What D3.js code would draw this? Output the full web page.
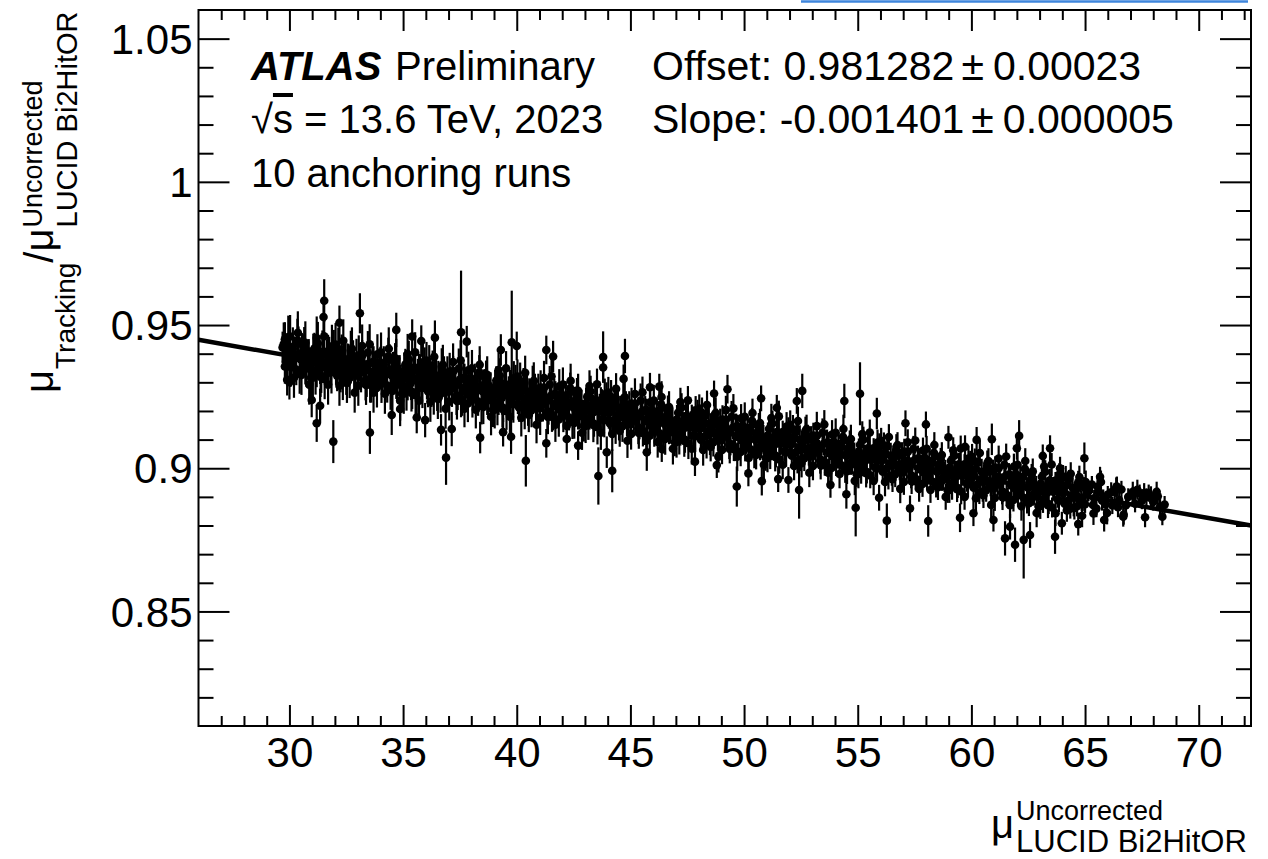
<!DOCTYPE html>
<html>
<head>
<meta charset="utf-8">
<script src="https://cdn.jsdelivr.net/npm/d3@7"></script>
<style>
  body { margin: 0; background: #fff; }
  svg text { font-family: "Liberation Sans", Arial, Helvetica, sans-serif; fill: #000; }
  .axis path { display: none; }
  .axis line { stroke: #000; stroke-width: 2; }
  .axis text { font-size: 42px; }
</style>
</head>
<body>
<div id="chart"></div>
<script>
// mu (LUCID Bi2HitOR, uncorrected) per lumiblock, 10 anchoring runs
var muLucid = [
  29.7, 29.8, 29.8, 29.9, 29.9,
  30.0, 30.1, 30.2, 30.3, 30.4, 30.5, 30.6, 30.7, 30.8, 30.9,
  31.0, 31.1, 31.2, 31.3, 31.4, 31.5, 31.6, 31.7, 31.8, 31.9,
  32.0, 32.1, 32.2, 32.3, 32.4, 32.5, 32.6, 32.7, 32.8, 32.9,
  33.0, 33.1, 33.2, 33.3, 33.4, 33.5, 33.6, 33.7, 33.8, 33.9,
  34.0, 34.1, 34.2, 34.3, 34.4, 34.5, 34.6, 34.7, 34.8, 34.9,
  35.0, 35.1, 35.2, 35.3, 35.4, 35.5, 35.6, 35.7, 35.8, 35.9,
  36.0, 36.1, 36.2, 36.3, 36.4, 36.5, 36.6, 36.7, 36.8, 36.9,
  37.0, 37.1, 37.2, 37.3, 37.4, 37.5, 37.6, 37.7, 37.8, 37.9,
  38.0, 38.1, 38.2, 38.3, 38.4, 38.5, 38.6, 38.7, 38.8, 38.9,
  39.0, 39.1, 39.2, 39.3, 39.4, 39.5, 39.6, 39.7, 39.8, 39.9,
  40.0, 40.1, 40.2, 40.3, 40.4, 40.5, 40.6, 40.7, 40.8, 40.9,
  41.0, 41.1, 41.2, 41.3, 41.4, 41.5, 41.6, 41.7, 41.8, 41.9,
  42.0, 42.1, 42.2, 42.3, 42.4, 42.5, 42.6, 42.7, 42.8, 42.9,
  43.0, 43.1, 43.2, 43.3, 43.4, 43.5, 43.6, 43.7, 43.8, 43.9,
  44.0, 44.1, 44.2, 44.3, 44.4, 44.5, 44.6, 44.7, 44.8, 44.9,
  45.0, 45.1, 45.2, 45.3, 45.4, 45.5, 45.6, 45.7, 45.8, 45.9,
  46.0, 46.1, 46.2, 46.3, 46.4, 46.5, 46.6, 46.7, 46.8, 46.9,
  47.0, 47.1, 47.2, 47.3, 47.4, 47.5, 47.6, 47.7, 47.8, 47.9,
  48.0, 48.1, 48.2, 48.3, 48.4, 48.5, 48.6, 48.7, 48.8, 48.9,
  49.0, 49.1, 49.2, 49.3, 49.4, 49.5, 49.6, 49.7, 49.8, 49.9,
  50.0, 50.1, 50.2, 50.3, 50.4, 50.5, 50.6, 50.7, 50.8, 50.9,
  51.0, 51.1, 51.2, 51.3, 51.4, 51.5, 51.6, 51.7, 51.8, 51.9,
  52.0, 52.1, 52.2, 52.3, 52.4, 52.5, 52.6, 52.7, 52.8, 52.9,
  53.0, 53.1, 53.2, 53.3, 53.4, 53.5, 53.6, 53.7, 53.8, 53.9,
  54.0, 54.1, 54.2, 54.3, 54.4, 54.5, 54.6, 54.7, 54.8, 54.9,
  55.0, 55.1, 55.2, 55.3, 55.4, 55.5, 55.6, 55.7, 55.8, 55.9,
  56.0, 56.1, 56.2, 56.3, 56.4, 56.5, 56.6, 56.7, 56.8, 56.9,
  57.0, 57.1, 57.2, 57.3, 57.4, 57.5, 57.6, 57.7, 57.8, 57.9,
  58.0, 58.1, 58.2, 58.3, 58.4, 58.5, 58.6, 58.7, 58.8, 58.9,
  59.0, 59.1, 59.2, 59.3, 59.4, 59.5, 59.6, 59.7, 59.8, 59.9,
  60.0, 60.1, 60.2, 60.3, 60.4, 60.5, 60.6, 60.7, 60.8, 60.9,
  61.0, 61.1, 61.2, 61.3, 61.4, 61.5, 61.6, 61.7, 61.8, 61.9,
  62.0, 62.1, 62.2, 62.3, 62.4, 62.5, 62.6, 62.7, 62.8, 62.9,
  63.0, 63.1, 63.2, 63.3, 63.4, 63.5, 63.6, 63.7, 63.8, 63.9,
  64.0, 64.1, 64.2, 64.3, 64.4, 64.5, 64.6, 64.7, 64.8, 64.9,
  65.0, 65.1, 65.3, 65.4, 65.5, 65.6, 65.8, 65.9,
  66.0, 66.2, 66.3, 66.5, 66.6, 66.8, 66.9,
  67.1, 67.2, 67.4, 67.5, 67.7, 67.8, 68.0, 68.2, 68.3, 68.5,
  // second pass of lumiblocks
  29.75, 29.85, 29.95,
  30.05, 30.15, 30.25, 30.35, 30.45, 30.55, 30.65, 30.75, 30.85, 30.95,
  31.05, 31.15, 31.25, 31.35, 31.45, 31.55, 31.65, 31.75, 31.85, 31.95,
  32.05, 32.15, 32.25, 32.35, 32.45, 32.55, 32.65, 32.75, 32.85, 32.95,
  33.05, 33.15, 33.25, 33.35, 33.45, 33.55, 33.65, 33.75, 33.85, 33.95,
  34.05, 34.15, 34.25, 34.35, 34.45, 34.55, 34.65, 34.75, 34.85, 34.95,
  35.05, 35.15, 35.25, 35.35, 35.45, 35.55, 35.65, 35.75, 35.85, 35.95,
  36.05, 36.15, 36.25, 36.35, 36.45, 36.55, 36.65, 36.75, 36.85, 36.95,
  37.05, 37.15, 37.25, 37.35, 37.45, 37.55, 37.65, 37.75, 37.85, 37.95,
  38.05, 38.15, 38.25, 38.35, 38.45, 38.55, 38.65, 38.75, 38.85, 38.95,
  39.05, 39.15, 39.25, 39.35, 39.45, 39.55, 39.65, 39.75, 39.85, 39.95,
  40.05, 40.15, 40.25, 40.35, 40.45, 40.55, 40.65, 40.75, 40.85, 40.95,
  41.05, 41.15, 41.25, 41.35, 41.45, 41.55, 41.65, 41.75, 41.85, 41.95,
  42.05, 42.15, 42.25, 42.35, 42.45, 42.55, 42.65, 42.75, 42.85, 42.95,
  43.05, 43.15, 43.25, 43.35, 43.45, 43.55, 43.65, 43.75, 43.85, 43.95,
  44.05, 44.15, 44.25, 44.35, 44.45, 44.55, 44.65, 44.75, 44.85, 44.95,
  45.05, 45.15, 45.25, 45.35, 45.45, 45.55, 45.65, 45.75, 45.85, 45.95,
  46.05, 46.15, 46.25, 46.35, 46.45, 46.55, 46.65, 46.75, 46.85, 46.95,
  47.05, 47.15, 47.25, 47.35, 47.45, 47.55, 47.65, 47.75, 47.85, 47.95,
  48.05, 48.15, 48.25, 48.35, 48.45, 48.55, 48.65, 48.75, 48.85, 48.95,
  49.05, 49.15, 49.25, 49.35, 49.45, 49.55, 49.65, 49.75, 49.85, 49.95,
  50.05, 50.15, 50.25, 50.35, 50.45, 50.55, 50.65, 50.75, 50.85, 50.95,
  51.05, 51.15, 51.25, 51.35, 51.45, 51.55, 51.65, 51.75, 51.85, 51.95,
  52.05, 52.15, 52.25, 52.35, 52.45, 52.55, 52.65, 52.75, 52.85, 52.95,
  53.05, 53.15, 53.25, 53.35, 53.45, 53.55, 53.65, 53.75, 53.85, 53.95,
  54.05, 54.15, 54.25, 54.35, 54.45, 54.55, 54.65, 54.75, 54.85, 54.95,
  55.05, 55.15, 55.25, 55.35, 55.45, 55.55, 55.65, 55.75, 55.85, 55.95,
  56.05, 56.15, 56.25, 56.35, 56.45, 56.55, 56.65, 56.75, 56.85, 56.95,
  57.05, 57.15, 57.25, 57.35, 57.45, 57.55, 57.65, 57.75, 57.85, 57.95,
  58.05, 58.15, 58.25, 58.35, 58.45, 58.55, 58.65, 58.75, 58.85, 58.95,
  59.05, 59.15, 59.25, 59.35, 59.45, 59.55, 59.65, 59.75, 59.85, 59.95,
  60.05, 60.15, 60.25, 60.35, 60.45, 60.55, 60.65, 60.75, 60.85, 60.95,
  61.05, 61.15, 61.25, 61.35, 61.45, 61.55, 61.65, 61.75, 61.85, 61.95,
  62.05, 62.15, 62.25, 62.35, 62.45, 62.55, 62.65, 62.75, 62.85, 62.95,
  63.05, 63.15, 63.25, 63.35, 63.45, 63.55, 63.65, 63.75, 63.85, 63.95,
  64.05, 64.15, 64.25, 64.35, 64.45, 64.55, 64.65, 64.75, 64.85, 64.95,
  65.15, 65.35, 65.55, 65.75, 66.15, 66.45,
  // third pass (outer part of the band)
  30.03, 30.2, 30.37, 30.53, 30.7, 30.87,
  31.03, 31.2, 31.37, 31.53, 31.7, 31.87,
  32.03, 32.2, 32.37, 32.53, 32.7, 32.87,
  33.03, 33.2, 33.37, 33.53, 33.7, 33.87,
  34.03, 34.2, 34.37, 34.53, 34.7, 34.87,
  35.03, 35.2, 35.37, 35.53, 35.7, 35.87,
  36.03, 36.2, 36.37, 36.53, 36.7, 36.87,
  37.03, 37.2, 37.37, 37.53, 37.7, 37.87,
  38.03, 38.2, 38.37, 38.53, 38.7, 38.87,
  39.03, 39.2, 39.37, 39.53, 39.7, 39.87,
  40.03, 40.2, 40.37, 40.53, 40.7, 40.87,
  41.03, 41.2, 41.37, 41.53, 41.7, 41.87,
  42.03, 42.2, 42.37, 42.53, 42.7, 42.87,
  43.03, 43.2, 43.37, 43.53, 43.7, 43.87,
  44.03, 44.2, 44.37, 44.53, 44.7, 44.87,
  45.03, 45.2, 45.37, 45.53, 45.7, 45.87,
  46.03, 46.2, 46.37, 46.53, 46.7, 46.87,
  47.03, 47.2, 47.37, 47.53, 47.7, 47.87,
  48.03, 48.2, 48.37, 48.53, 48.7, 48.87,
  49.03, 49.2, 49.37, 49.53, 49.7, 49.87,
  50.03, 50.2, 50.37, 50.53, 50.7, 50.87,
  51.03, 51.2, 51.37, 51.53, 51.7, 51.87,
  52.03, 52.2, 52.37, 52.53, 52.7, 52.87,
  53.03, 53.2, 53.37, 53.53, 53.7, 53.87,
  54.03, 54.2, 54.37, 54.53, 54.7, 54.87,
  55.03, 55.2, 55.37, 55.53, 55.7, 55.87,
  56.03, 56.2, 56.37, 56.53, 56.7, 56.87,
  57.03, 57.2, 57.37, 57.53, 57.7, 57.87,
  58.03, 58.2, 58.37, 58.53, 58.7, 58.87,
  59.03, 59.2, 59.37, 59.53, 59.7, 59.87,
  60.03, 60.2, 60.37, 60.53, 60.7, 60.87,
  61.03, 61.2, 61.37, 61.53, 61.7, 61.87,
  62.03, 62.2, 62.37, 62.53, 62.7, 62.87,
  63.03, 63.2, 63.37, 63.53, 63.7, 63.87,
  64.03, 64.2, 64.37, 64.53, 64.7, 64.87,
  65.03, 65.37, 65.7, 65.97, 66.37, 66.7, 67.3, 67.9,
  // upper and lower edge of the band
  31.5, 34.7, 35.4, 35.8, 36.4, 37.8, 39.3, 40.0, 41.3, 41.6, 43.8, 44.7,
  30.0, 31.35, 34.87, 35.6, 35.97, 36.67, 37.14, 38.39, 39.4, 39.75, 41.3, 42.2, 42.7, 43.96,
  45.86, 46.27, 48.68, 49.27, 50.75, 51.44, 52.32, 57.1, 58.0, 58.99, 59.72, 60.23, 62.0, 63.14, 63.46, 63.9, 65.66, 66.4, 67.1, 67.6,
  46.38, 47.84, 48.8, 50.19, 50.78, 51.5, 51.95, 53.8, 54.5, 55.94, 57.3, 60.09, 60.97, 61.7, 62.58, 63.98, 64.7, 66.68,
  // isolated points
  30.98, 31.2, 31.53, 31.93, 32.2, 33.1, 33.54, 34.5, 36.89, 37.55, 39.78, 40.4, 43.59, 43.8, 44.2, 44.76, 45.72, 49.68, 52.42,
  52.56, 54.41, 54.91, 55.1, 55.84, 56.28, 58.1, 59.5, 60.9, 61.48, 61.92, 62.1, 62.3, 63.68, 64.97, 65.84, 67.64, 68.15, 68.4
];

// mu_Tracking / mu_LUCID
var ratio = [
  0.9422, 0.9355, 0.9450, 0.9309, 0.9402,
  0.9425, 0.9370, 0.9400, 0.9345, 0.9435, 0.9380, 0.9408, 0.9348, 0.9384, 0.9362,
  0.9367, 0.9418, 0.9343, 0.9383, 0.9323, 0.9398, 0.9366, 0.9406, 0.9340, 0.9381,
  0.9371, 0.9324, 0.9391, 0.9412, 0.9345, 0.9311, 0.9374, 0.9346, 0.9392, 0.9329,
  0.9323, 0.9362, 0.9393, 0.9344, 0.9309, 0.9366, 0.9289, 0.9371, 0.9344, 0.9322,
  0.9369, 0.9314, 0.9344, 0.9289, 0.9379, 0.9324, 0.9352, 0.9292, 0.9328, 0.9306,
  0.9311, 0.9362, 0.9287, 0.9327, 0.9267, 0.9342, 0.9310, 0.9350, 0.9284, 0.9325,
  0.9315, 0.9268, 0.9335, 0.9356, 0.9289, 0.9255, 0.9318, 0.9290, 0.9336, 0.9273,
  0.9267, 0.9306, 0.9337, 0.9288, 0.9253, 0.9310, 0.9233, 0.9315, 0.9288, 0.9266,
  0.9313, 0.9258, 0.9288, 0.9233, 0.9323, 0.9268, 0.9296, 0.9236, 0.9272, 0.9250,
  0.9254, 0.9306, 0.9231, 0.9271, 0.9211, 0.9285, 0.9254, 0.9294, 0.9228, 0.9269,
  0.9258, 0.9212, 0.9279, 0.9300, 0.9233, 0.9198, 0.9262, 0.9234, 0.9280, 0.9217,
  0.9210, 0.9250, 0.9281, 0.9232, 0.9197, 0.9253, 0.9177, 0.9259, 0.9232, 0.9210,
  0.9256, 0.9202, 0.9232, 0.9177, 0.9267, 0.9211, 0.9240, 0.9180, 0.9216, 0.9194,
  0.9198, 0.9250, 0.9175, 0.9215, 0.9155, 0.9229, 0.9198, 0.9238, 0.9172, 0.9213,
  0.9202, 0.9156, 0.9223, 0.9244, 0.9177, 0.9142, 0.9206, 0.9178, 0.9224, 0.9161,
  0.9154, 0.9194, 0.9225, 0.9176, 0.9141, 0.9197, 0.9121, 0.9203, 0.9176, 0.9154,
  0.9200, 0.9146, 0.9176, 0.9121, 0.9211, 0.9155, 0.9184, 0.9124, 0.9160, 0.9138,
  0.9142, 0.9194, 0.9119, 0.9159, 0.9099, 0.9173, 0.9142, 0.9182, 0.9116, 0.9157,
  0.9146, 0.9100, 0.9167, 0.9188, 0.9121, 0.9086, 0.9150, 0.9122, 0.9168, 0.9105,
  0.9098, 0.9138, 0.9169, 0.9120, 0.9085, 0.9141, 0.9065, 0.9147, 0.9120, 0.9098,
  0.9144, 0.9090, 0.9120, 0.9065, 0.9155, 0.9099, 0.9128, 0.9068, 0.9104, 0.9082,
  0.9086, 0.9138, 0.9063, 0.9103, 0.9043, 0.9117, 0.9086, 0.9126, 0.9060, 0.9101,
  0.9090, 0.9044, 0.9111, 0.9132, 0.9065, 0.9030, 0.9094, 0.9066, 0.9112, 0.9049,
  0.9042, 0.9082, 0.9113, 0.9064, 0.9029, 0.9085, 0.9009, 0.9091, 0.9064, 0.9042,
  0.9088, 0.9034, 0.9064, 0.9009, 0.9099, 0.9043, 0.9072, 0.9012, 0.9048, 0.9026,
  0.9030, 0.9082, 0.9007, 0.9047, 0.8987, 0.9061, 0.9030, 0.9070, 0.9004, 0.9045,
  0.9034, 0.8988, 0.9055, 0.9076, 0.9009, 0.8974, 0.9038, 0.9010, 0.9056, 0.8993,
  0.8986, 0.9026, 0.9057, 0.9008, 0.8973, 0.9029, 0.8953, 0.9035, 0.9008, 0.8986,
  0.9032, 0.8978, 0.9008, 0.8953, 0.9043, 0.8987, 0.9016, 0.8956, 0.8992, 0.8970,
  0.8974, 0.9026, 0.8951, 0.8991, 0.8931, 0.9005, 0.8974, 0.9014, 0.8948, 0.8989,
  0.8978, 0.8932, 0.8998, 0.9020, 0.8953, 0.8918, 0.8982, 0.8953, 0.9000, 0.8937,
  0.8930, 0.8970, 0.9000, 0.8952, 0.8917, 0.8973, 0.8897, 0.8978, 0.8952, 0.8930,
  0.8976, 0.8922, 0.8951, 0.8897, 0.8987, 0.8931, 0.8960, 0.8899, 0.8936, 0.8914,
  0.8918, 0.8970, 0.8894, 0.8935, 0.8875, 0.8949, 0.8918, 0.8957, 0.8892, 0.8933,
  0.8922, 0.8876, 0.8942, 0.8964, 0.8897, 0.8862, 0.8926, 0.8897, 0.8944, 0.8881,
  0.8874, 0.8914, 0.8943, 0.8895, 0.8859, 0.8916, 0.8896, 0.8874,
  0.8908, 0.8870, 0.8919, 0.8889, 0.8926, 0.8871, 0.8900,
  0.8905, 0.8876, 0.8913, 0.8887, 0.8900, 0.8913, 0.8882, 0.8902, 0.8865, 0.8873,
  // second pass
  0.9434, 0.9373, 0.9458,
  0.9354, 0.9417, 0.9384, 0.9447, 0.9330, 0.9397, 0.9423, 0.9360, 0.9381, 0.9316,
  0.9395, 0.9327, 0.9436, 0.9364, 0.9406, 0.9311, 0.9373, 0.9389, 0.9336, 0.9413,
  0.9361, 0.9416, 0.9335, 0.9308, 0.9380, 0.9366, 0.9315, 0.9417, 0.9335, 0.9382,
  0.9394, 0.9335, 0.9349, 0.9307, 0.9404, 0.9299, 0.9370, 0.9332, 0.9282, 0.9353,
  0.9298, 0.9361, 0.9328, 0.9391, 0.9274, 0.9341, 0.9367, 0.9304, 0.9325, 0.9260,
  0.9339, 0.9271, 0.9380, 0.9308, 0.9350, 0.9255, 0.9317, 0.9333, 0.9280, 0.9357,
  0.9305, 0.9360, 0.9279, 0.9252, 0.9324, 0.9310, 0.9259, 0.9361, 0.9279, 0.9326,
  0.9338, 0.9279, 0.9293, 0.9251, 0.9348, 0.9243, 0.9314, 0.9276, 0.9226, 0.9297,
  0.9242, 0.9305, 0.9272, 0.9335, 0.9218, 0.9285, 0.9311, 0.9248, 0.9270, 0.9204,
  0.9283, 0.9215, 0.9324, 0.9252, 0.9294, 0.9199, 0.9261, 0.9277, 0.9224, 0.9301,
  0.9249, 0.9304, 0.9223, 0.9196, 0.9268, 0.9254, 0.9203, 0.9305, 0.9223, 0.9270,
  0.9282, 0.9223, 0.9237, 0.9195, 0.9292, 0.9187, 0.9258, 0.9220, 0.9170, 0.9241,
  0.9186, 0.9249, 0.9216, 0.9279, 0.9162, 0.9229, 0.9255, 0.9192, 0.9214, 0.9148,
  0.9227, 0.9159, 0.9268, 0.9196, 0.9238, 0.9143, 0.9205, 0.9221, 0.9168, 0.9245,
  0.9193, 0.9248, 0.9167, 0.9140, 0.9212, 0.9198, 0.9147, 0.9249, 0.9167, 0.9214,
  0.9226, 0.9167, 0.9181, 0.9139, 0.9236, 0.9131, 0.9202, 0.9164, 0.9114, 0.9185,
  0.9130, 0.9193, 0.9160, 0.9223, 0.9106, 0.9173, 0.9199, 0.9136, 0.9157, 0.9092,
  0.9171, 0.9103, 0.9212, 0.9140, 0.9182, 0.9087, 0.9149, 0.9165, 0.9112, 0.9189,
  0.9137, 0.9192, 0.9111, 0.9084, 0.9156, 0.9142, 0.9091, 0.9193, 0.9111, 0.9158,
  0.9170, 0.9111, 0.9125, 0.9082, 0.9180, 0.9075, 0.9146, 0.9108, 0.9057, 0.9129,
  0.9074, 0.9137, 0.9104, 0.9166, 0.9050, 0.9117, 0.9143, 0.9080, 0.9101, 0.9036,
  0.9115, 0.9047, 0.9156, 0.9083, 0.9126, 0.9031, 0.9093, 0.9109, 0.9055, 0.9133,
  0.9081, 0.9136, 0.9055, 0.9027, 0.9100, 0.9086, 0.9035, 0.9137, 0.9054, 0.9102,
  0.9114, 0.9055, 0.9069, 0.9026, 0.9124, 0.9019, 0.9090, 0.9052, 0.9001, 0.9073,
  0.9018, 0.9081, 0.9048, 0.9110, 0.8994, 0.9061, 0.9087, 0.9024, 0.9045, 0.8980,
  0.9059, 0.8991, 0.9100, 0.9027, 0.9070, 0.8975, 0.9037, 0.9053, 0.8999, 0.9077,
  0.9025, 0.9080, 0.8999, 0.8971, 0.9044, 0.9030, 0.8979, 0.9081, 0.8998, 0.9046,
  0.9058, 0.8999, 0.9013, 0.8970, 0.9068, 0.8963, 0.9034, 0.8996, 0.8945, 0.9017,
  0.8962, 0.9025, 0.8992, 0.9054, 0.8938, 0.9005, 0.9031, 0.8968, 0.8989, 0.8924,
  0.9003, 0.8935, 0.9044, 0.8971, 0.9014, 0.8919, 0.8981, 0.8997, 0.8943, 0.9021,
  0.8969, 0.9024, 0.8943, 0.8915, 0.8988, 0.8974, 0.8923, 0.9025, 0.8942, 0.8990,
  0.9002, 0.8943, 0.8957, 0.8914, 0.9012, 0.8907, 0.8978, 0.8940, 0.8889, 0.8961,
  0.8906, 0.8969, 0.8936, 0.8998, 0.8882, 0.8949, 0.8975, 0.8912, 0.8933, 0.8868,
  0.8947, 0.8879, 0.8988, 0.8915, 0.8958, 0.8863, 0.8925, 0.8941, 0.8887, 0.8965,
  0.8913, 0.8968, 0.8887, 0.8859, 0.8932, 0.8917, 0.8867, 0.8969, 0.8886, 0.8934,
  0.8920, 0.8872, 0.8935, 0.8887, 0.8916, 0.8864,
  // third pass
  0.9460, 0.9316, 0.9473, 0.9326, 0.9438, 0.9292,
  0.9316, 0.9455, 0.9319, 0.9461, 0.9292, 0.9426,
  0.9432, 0.9288, 0.9445, 0.9298, 0.9410, 0.9264,
  0.9288, 0.9427, 0.9291, 0.9433, 0.9264, 0.9398,
  0.9404, 0.9260, 0.9417, 0.9270, 0.9382, 0.9236,
  0.9260, 0.9399, 0.9263, 0.9405, 0.9236, 0.9370,
  0.9376, 0.9232, 0.9389, 0.9242, 0.9354, 0.9208,
  0.9232, 0.9371, 0.9235, 0.9377, 0.9208, 0.9342,
  0.9348, 0.9204, 0.9361, 0.9214, 0.9326, 0.9180,
  0.9204, 0.9343, 0.9207, 0.9349, 0.9180, 0.9314,
  0.9320, 0.9176, 0.9333, 0.9186, 0.9298, 0.9152,
  0.9176, 0.9315, 0.9179, 0.9321, 0.9152, 0.9286,
  0.9292, 0.9148, 0.9305, 0.9158, 0.9270, 0.9124,
  0.9148, 0.9287, 0.9151, 0.9293, 0.9124, 0.9258,
  0.9264, 0.9120, 0.9277, 0.9130, 0.9242, 0.9096,
  0.9120, 0.9259, 0.9123, 0.9265, 0.9096, 0.9230,
  0.9236, 0.9092, 0.9249, 0.9102, 0.9214, 0.9068,
  0.9092, 0.9231, 0.9095, 0.9237, 0.9068, 0.9202,
  0.9208, 0.9064, 0.9221, 0.9074, 0.9186, 0.9040,
  0.9064, 0.9203, 0.9067, 0.9209, 0.9040, 0.9174,
  0.9180, 0.9036, 0.9193, 0.9046, 0.9158, 0.9012,
  0.9036, 0.9175, 0.9039, 0.9181, 0.9012, 0.9146,
  0.9152, 0.9008, 0.9165, 0.9018, 0.9130, 0.8984,
  0.9008, 0.9147, 0.9011, 0.9153, 0.8984, 0.9118,
  0.9124, 0.8980, 0.9137, 0.8990, 0.9102, 0.8956,
  0.8980, 0.9119, 0.8983, 0.9125, 0.8956, 0.9090,
  0.9096, 0.8952, 0.9109, 0.8962, 0.9074, 0.8928,
  0.8952, 0.9091, 0.8955, 0.9097, 0.8928, 0.9062,
  0.9068, 0.8924, 0.9081, 0.8934, 0.9046, 0.8900,
  0.8924, 0.9063, 0.8927, 0.9069, 0.8900, 0.9034,
  0.9040, 0.8895, 0.9053, 0.8906, 0.9017, 0.8872,
  0.8896, 0.9034, 0.8899, 0.9041, 0.8871, 0.9006,
  0.9012, 0.8867, 0.9025, 0.8878, 0.8989, 0.8844,
  0.8868, 0.9006, 0.8871, 0.9013, 0.8843, 0.8978,
  0.8971, 0.8853, 0.8981, 0.8861, 0.8951, 0.8834,
  0.8952, 0.8842, 0.8952, 0.8844, 0.8933, 0.8838, 0.8925, 0.8902,
  // edges
  0.9528, 0.9483, 0.9460, 0.9444, 0.9456, 0.9442, 0.9413, 0.9427, 0.9413, 0.9390, 0.9352, 0.9312,
  0.9300, 0.9218, 0.9207, 0.9177, 0.9168, 0.9134, 0.9137, 0.9107, 0.9126, 0.9110, 0.9087, 0.9102, 0.9079, 0.9056,
  0.9283, 0.9285, 0.9261, 0.9276, 0.9244, 0.9211, 0.9235, 0.9157, 0.9153, 0.9108, 0.9075, 0.9099, 0.9070, 0.9043, 0.9070, 0.9000, 0.8970, 0.8936, 0.8918, 0.8913,
  0.9067, 0.9023, 0.9011, 0.8982, 0.8955, 0.8962, 0.8959, 0.8942, 0.8909, 0.8897, 0.8860, 0.8843, 0.8819, 0.8796, 0.8767, 0.8808, 0.8805, 0.8831,
  // isolated
  0.9238, 0.9157, 0.9585, 0.9093, 0.9508, 0.9541, 0.9125, 0.9186, 0.9037, 0.9475, 0.9440, 0.9026, 0.8973, 0.9388, 0.8991, 0.9392, 0.9056, 0.8936, 0.8924,
  0.9270, 0.9235, 0.8862, 0.9260, 0.9191, 0.8817, 0.8816, 0.8827, 0.9101, 0.8755, 0.8733, 0.9113, 0.8750, 0.8761, 0.9035, 0.8819, 0.8829, 0.8918, 0.8831
];

// statistical uncertainty on the ratio
var ratioErr = [
  0.0055, 0.006, 0.006, 0.0055, 0.006,
  0.006, 0.0055, 0.006, 0.0055, 0.006, 0.005, 0.006, 0.0055, 0.005, 0.006,
  0.006, 0.0055, 0.006, 0.0055, 0.006, 0.006, 0.0055, 0.006, 0.0055, 0.006,
  0.006, 0.0055, 0.006, 0.0055, 0.006, 0.0055, 0.006, 0.005, 0.0055, 0.006,
  0.0055, 0.006, 0.0055, 0.005, 0.006, 0.0055, 0.006, 0.0055, 0.005, 0.0055,
  0.0055, 0.005, 0.0055, 0.006, 0.0055, 0.005, 0.0055, 0.005, 0.005, 0.0055,
  0.005, 0.0055, 0.005, 0.0055, 0.006, 0.005, 0.0055, 0.005, 0.0055, 0.005,
  0.005, 0.0055, 0.005, 0.0055, 0.005, 0.0055, 0.005, 0.005, 0.0055, 0.005,
  0.005, 0.005, 0.0055, 0.005, 0.005, 0.0055, 0.005, 0.005, 0.0045, 0.005,
  0.005, 0.005, 0.0045, 0.005, 0.0055, 0.0045, 0.005, 0.005, 0.0045, 0.005,
  0.005, 0.005, 0.0045, 0.005, 0.005, 0.0045, 0.005, 0.005, 0.0045, 0.005,
  0.0045, 0.005, 0.0045, 0.005, 0.0045, 0.005, 0.0045, 0.0045, 0.005, 0.0045,
  0.0045, 0.0045, 0.005, 0.0045, 0.0045, 0.005, 0.0045, 0.0045, 0.004, 0.0045,
  0.0045, 0.0045, 0.004, 0.0045, 0.005, 0.004, 0.0045, 0.0045, 0.004, 0.0045,
  0.0045, 0.0045, 0.004, 0.0045, 0.0045, 0.004, 0.0045, 0.0045, 0.004, 0.0045,
  0.004, 0.0045, 0.004, 0.0045, 0.004, 0.0045, 0.004, 0.004, 0.0045, 0.004,
  0.004, 0.004, 0.0045, 0.004, 0.004, 0.0045, 0.004, 0.004, 0.004, 0.004,
  0.004, 0.004, 0.004, 0.0045, 0.0045, 0.004, 0.004, 0.004, 0.004, 0.004,
  0.004, 0.0045, 0.004, 0.004, 0.0045, 0.004, 0.004, 0.004, 0.004, 0.004,
  0.004, 0.004, 0.004, 0.0045, 0.004, 0.004, 0.004, 0.004, 0.004, 0.004,
  0.004, 0.004, 0.004, 0.004, 0.004, 0.004, 0.004, 0.004, 0.0035, 0.004,
  0.004, 0.004, 0.0035, 0.004, 0.004, 0.0035, 0.004, 0.004, 0.0035, 0.004,
  0.004, 0.004, 0.0035, 0.004, 0.004, 0.0035, 0.004, 0.004, 0.0035, 0.004,
  0.0035, 0.004, 0.0035, 0.004, 0.0035, 0.004, 0.0035, 0.0035, 0.004, 0.0035,
  0.0035, 0.0035, 0.004, 0.0035, 0.0035, 0.004, 0.0035, 0.0035, 0.0035, 0.0035,
  0.0035, 0.0035, 0.0035, 0.004, 0.0035, 0.0035, 0.0035, 0.0035, 0.0035, 0.0035,
  0.0035, 0.0035, 0.0035, 0.0035, 0.004, 0.0035, 0.0035, 0.0035, 0.0035, 0.0035,
  0.0035, 0.0035, 0.0035, 0.0035, 0.0035, 0.0035, 0.0035, 0.003, 0.0035, 0.0035,
  0.0035, 0.0035, 0.0035, 0.003, 0.0035, 0.0035, 0.0035, 0.0035, 0.003, 0.0035,
  0.0035, 0.0035, 0.003, 0.0035, 0.0035, 0.003, 0.0035, 0.0035, 0.003, 0.0035,
  0.0035, 0.0035, 0.003, 0.0035, 0.0035, 0.003, 0.0035, 0.0035, 0.003, 0.0035,
  0.0035, 0.0035, 0.003, 0.0035, 0.0035, 0.0035, 0.003, 0.0035, 0.0035, 0.003,
  0.0035, 0.003, 0.0035, 0.003, 0.0035, 0.003, 0.0035, 0.003, 0.003, 0.003,
  0.003, 0.003, 0.003, 0.0035, 0.003, 0.003, 0.003, 0.003, 0.003, 0.003,
  0.003, 0.003, 0.003, 0.003, 0.0035, 0.003, 0.003, 0.003, 0.003, 0.003,
  0.003, 0.003, 0.003, 0.003, 0.003, 0.003, 0.003, 0.003, 0.003, 0.003,
  0.003, 0.003, 0.003, 0.003, 0.003, 0.003, 0.003, 0.003,
  0.003, 0.003, 0.003, 0.003, 0.003, 0.003, 0.003,
  0.003, 0.003, 0.003, 0.003, 0.003, 0.003, 0.003, 0.003, 0.003, 0.003,
  // second pass
  0.0075, 0.007, 0.0075,
  0.007, 0.0075, 0.007, 0.0075, 0.007, 0.0075, 0.007, 0.0075, 0.007, 0.0075,
  0.0075, 0.007, 0.0075, 0.007, 0.0075, 0.007, 0.0075, 0.007, 0.0075, 0.007,
  0.007, 0.0075, 0.007, 0.007, 0.0075, 0.007, 0.007, 0.0075, 0.007, 0.007,
  0.007, 0.007, 0.0065, 0.007, 0.0075, 0.007, 0.0065, 0.007, 0.007, 0.0065,
  0.007, 0.0065, 0.007, 0.0065, 0.007, 0.0065, 0.007, 0.0065, 0.007, 0.0065,
  0.0065, 0.007, 0.0065, 0.007, 0.0065, 0.007, 0.0065, 0.0065, 0.007, 0.0065,
  0.0065, 0.007, 0.0065, 0.0065, 0.007, 0.0065, 0.0065, 0.007, 0.0065, 0.0065,
  0.0065, 0.0065, 0.006, 0.0065, 0.007, 0.0065, 0.006, 0.0065, 0.0065, 0.006,
  0.0065, 0.006, 0.0065, 0.006, 0.0065, 0.006, 0.0065, 0.006, 0.0065, 0.006,
  0.006, 0.0065, 0.006, 0.0065, 0.006, 0.0065, 0.006, 0.006, 0.0065, 0.006,
  0.006, 0.0065, 0.006, 0.006, 0.0065, 0.006, 0.006, 0.0065, 0.006, 0.006,
  0.006, 0.006, 0.0055, 0.006, 0.0065, 0.006, 0.0055, 0.006, 0.006, 0.0055,
  0.006, 0.0055, 0.006, 0.0055, 0.006, 0.0055, 0.006, 0.0055, 0.006, 0.0055,
  0.0055, 0.006, 0.0055, 0.006, 0.0055, 0.006, 0.0055, 0.0055, 0.006, 0.0055,
  0.0055, 0.006, 0.0055, 0.0055, 0.006, 0.0055, 0.0055, 0.006, 0.0055, 0.0055,
  0.0055, 0.0055, 0.005, 0.0055, 0.006, 0.0055, 0.005, 0.0055, 0.0055, 0.005,
  0.0055, 0.005, 0.0055, 0.005, 0.0055, 0.005, 0.0055, 0.005, 0.0055, 0.005,
  0.005, 0.0055, 0.005, 0.0055, 0.005, 0.0055, 0.005, 0.005, 0.0055, 0.005,
  0.005, 0.0055, 0.005, 0.005, 0.0055, 0.005, 0.005, 0.0055, 0.005, 0.005,
  0.005, 0.005, 0.0045, 0.005, 0.0055, 0.005, 0.0045, 0.005, 0.005, 0.0045,
  0.005, 0.0045, 0.005, 0.0045, 0.005, 0.0045, 0.005, 0.0045, 0.005, 0.0045,
  0.0045, 0.005, 0.0045, 0.005, 0.0045, 0.005, 0.0045, 0.0045, 0.005, 0.0045,
  0.0045, 0.005, 0.0045, 0.0045, 0.005, 0.0045, 0.0045, 0.005, 0.0045, 0.0045,
  0.0045, 0.0045, 0.0045, 0.0045, 0.005, 0.0045, 0.0045, 0.0045, 0.0045, 0.0045,
  0.0045, 0.0045, 0.0045, 0.0045, 0.0045, 0.0045, 0.0045, 0.0045, 0.0045, 0.0045,
  0.0045, 0.0045, 0.0045, 0.0045, 0.0045, 0.0045, 0.0045, 0.0045, 0.0045, 0.0045,
  0.0045, 0.0045, 0.0045, 0.0045, 0.0045, 0.004, 0.0045, 0.0045, 0.004, 0.0045,
  0.0045, 0.004, 0.0045, 0.004, 0.0045, 0.004, 0.0045, 0.004, 0.0045, 0.004,
  0.004, 0.0045, 0.004, 0.0045, 0.004, 0.0045, 0.004, 0.0045, 0.004, 0.0045,
  0.004, 0.0045, 0.004, 0.0045, 0.004, 0.0045, 0.004, 0.004, 0.0045, 0.004,
  0.004, 0.0045, 0.004, 0.004, 0.0045, 0.004, 0.004, 0.0045, 0.004, 0.004,
  0.004, 0.004, 0.004, 0.004, 0.004, 0.004, 0.004, 0.004, 0.004, 0.004,
  0.004, 0.004, 0.004, 0.004, 0.004, 0.004, 0.004, 0.004, 0.004, 0.004,
  0.004, 0.0035, 0.004, 0.0035, 0.004, 0.0035, 0.004, 0.0035, 0.004, 0.0035,
  0.0035, 0.004, 0.0035, 0.0035, 0.004, 0.0035, 0.0035, 0.004, 0.0035, 0.0035,
  0.0035, 0.0035, 0.0035, 0.0035, 0.0035, 0.0035,
  // third pass
  0.0075, 0.007, 0.0075, 0.007, 0.0075, 0.007,
  0.007, 0.0075, 0.007, 0.0075, 0.007, 0.0075,
  0.0075, 0.007, 0.0075, 0.007, 0.007, 0.007,
  0.007, 0.0075, 0.007, 0.007, 0.007, 0.007,
  0.007, 0.007, 0.0075, 0.007, 0.007, 0.007,
  0.007, 0.007, 0.0065, 0.007, 0.007, 0.0065,
  0.0065, 0.007, 0.0065, 0.007, 0.0065, 0.007,
  0.0065, 0.0065, 0.0065, 0.007, 0.0065, 0.0065,
  0.0065, 0.0065, 0.0065, 0.006, 0.0065, 0.0065,
  0.0065, 0.006, 0.0065, 0.006, 0.0065, 0.006,
  0.006, 0.0065, 0.006, 0.006, 0.006, 0.0065,
  0.006, 0.006, 0.006, 0.006, 0.006, 0.006,
  0.006, 0.006, 0.006, 0.0055, 0.006, 0.006,
  0.006, 0.0055, 0.006, 0.0055, 0.006, 0.0055,
  0.0055, 0.006, 0.0055, 0.0055, 0.0055, 0.006,
  0.0055, 0.0055, 0.0055, 0.0055, 0.0055, 0.0055,
  0.0055, 0.0055, 0.0055, 0.0055, 0.0055, 0.0055,
  0.0055, 0.005, 0.0055, 0.005, 0.0055, 0.005,
  0.005, 0.0055, 0.005, 0.005, 0.005, 0.0055,
  0.005, 0.005, 0.005, 0.005, 0.005, 0.005,
  0.005, 0.005, 0.005, 0.005, 0.005, 0.005,
  0.005, 0.005, 0.005, 0.0055, 0.005, 0.005,
  0.005, 0.005, 0.005, 0.005, 0.005, 0.005,
  0.005, 0.005, 0.005, 0.005, 0.005, 0.005,
  0.005, 0.005, 0.005, 0.0045, 0.005, 0.005,
  0.005, 0.0045, 0.005, 0.0045, 0.005, 0.0045,
  0.0045, 0.005, 0.0045, 0.0045, 0.0045, 0.005,
  0.0045, 0.0045, 0.0045, 0.0045, 0.0045, 0.0045,
  0.0045, 0.0045, 0.0045, 0.0045, 0.0045, 0.0045,
  0.0045, 0.0045, 0.0045, 0.0045, 0.0045, 0.0045,
  0.0045, 0.0045, 0.0045, 0.0045, 0.0045, 0.005,
  0.0045, 0.0045, 0.0045, 0.0045, 0.0045, 0.0045,
  0.0045, 0.005, 0.0045, 0.0045, 0.0045, 0.005,
  0.0045, 0.004, 0.0045, 0.004, 0.0045, 0.004,
  0.004, 0.004, 0.004, 0.004, 0.004, 0.004,
  0.004, 0.004, 0.004, 0.004, 0.0035, 0.0035, 0.0035, 0.0035,
  // edges
  0.0065, 0.006, 0.006, 0.0055, 0.006, 0.0055, 0.0055, 0.005, 0.005, 0.0055, 0.005, 0.005,
  0.006, 0.006, 0.006, 0.0055, 0.006, 0.0055, 0.006, 0.0055, 0.005, 0.006, 0.005, 0.005, 0.005, 0.0055,
  0.005, 0.0045, 0.0045, 0.005, 0.0045, 0.0045, 0.0045, 0.0045, 0.0045, 0.004, 0.004, 0.0045, 0.004, 0.004, 0.0045, 0.004, 0.0035, 0.0035, 0.0035, 0.0035,
  0.0045, 0.005, 0.0045, 0.0045, 0.005, 0.0045, 0.0045, 0.0045, 0.005, 0.0045, 0.0045, 0.0045, 0.004, 0.0045, 0.0045, 0.004, 0.004, 0.0035,
  // isolated
  0.006, 0.0065, 0.0075, 0.0075, 0.006, 0.007, 0.0075, 0.007, 0.0095, 0.0215, 0.018, 0.009, 0.010, 0.009, 0.0075, 0.006, 0.0065, 0.007, 0.010,
  0.006, 0.006, 0.010, 0.011, 0.0055, 0.006, 0.0055, 0.005, 0.0055, 0.006, 0.006, 0.0055, 0.0135, 0.006, 0.0055, 0.004, 0.0035, 0.0035, 0.003
];

// linear fit result
var fitOffset = 0.981282;
var fitSlope = -0.001401;

var xTicks = [30, 35, 40, 45, 50, 55, 60, 65, 70];
var yTicks = [0.85, 0.9, 0.95, 1, 1.05];

var infoLeft = ["√s = 13.6 TeV, 2023", "10 anchoring runs"];
var infoRight = [["Offset: 0.981282", "0.00023"], ["Slope: -0.001401", "0.000005"]];

var margins = {margin_left: 198.5, margin_top: 10, width: 1052.5, height: 716};

var svg = d3.select("#chart")
            .append("svg")
            .attr("width", 1268)
            .attr("height", 859);

// thin blue bar along the top edge of the picture
svg.append("line")
    .attr("x1", 801).attr("x2", 1248)
    .attr("y1", 1.5).attr("y2", 1.5)
    .attr("stroke", "#3f86dc")
    .attr("stroke-width", 2.5);

var g = svg.append("g")
    .attr("transform", "translate(" + margins.margin_left + "," + margins.margin_top + ")");

var x = d3.scaleLinear().domain([26, 72.3]).range([0, margins.width]);
var y = d3.scaleLinear().domain([0.81, 1.06]).range([margins.height, 0]);

var xMinor = d3.range(27, 73).filter(function(v) { return v % 5 !== 0; });
var yMinor = d3.range(82, 106).map(function(v) { return v / 100; })
               .filter(function(v) { return Math.round(v * 100) % 5 !== 0; });

// bottom axis
g.append("g").attr("class", "axis xlab")
    .attr("transform", "translate(0," + margins.height + ")")
    .call(d3.axisBottom(x).tickValues(xTicks).tickSize(-21).tickSizeOuter(0).tickPadding(11)
          .tickFormat(function(d) { return String(d); }));
g.append("g").attr("class", "axis")
    .attr("transform", "translate(0," + margins.height + ")")
    .call(d3.axisBottom(x).tickValues(xMinor).tickSize(-10).tickSizeOuter(0).tickFormat(""));

// top axis
g.append("g").attr("class", "axis")
    .call(d3.axisTop(x).tickValues(xTicks).tickSize(-21).tickSizeOuter(0).tickFormat(""));
g.append("g").attr("class", "axis")
    .call(d3.axisTop(x).tickValues(xMinor).tickSize(-10).tickSizeOuter(0).tickFormat(""));

// left axis
g.append("g").attr("class", "axis ylab")
    .call(d3.axisLeft(y).tickValues(yTicks).tickSize(-31).tickSizeOuter(0).tickPadding(6)
          .tickFormat(function(d) { return String(d); }));
g.append("g").attr("class", "axis")
    .call(d3.axisLeft(y).tickValues(yMinor).tickSize(-15).tickSizeOuter(0).tickFormat(""));

// right axis
g.append("g").attr("class", "axis")
    .attr("transform", "translate(" + margins.width + ",0)")
    .call(d3.axisRight(y).tickValues(yTicks).tickSize(-31).tickSizeOuter(0).tickFormat(""));
g.append("g").attr("class", "axis")
    .attr("transform", "translate(" + margins.width + ",0)")
    .call(d3.axisRight(y).tickValues(yMinor).tickSize(-15).tickSizeOuter(0).tickFormat(""));

g.selectAll(".xlab text").attr("dy", "0.71em");
g.selectAll(".ylab text").attr("dy", "0.35em");

// frame
g.append("rect")
    .attr("width", margins.width)
    .attr("height", margins.height)
    .attr("fill", "none")
    .attr("stroke", "#000")
    .attr("stroke-width", 2);

// points with error bars
var idx = d3.range(muLucid.length);

g.append("g").selectAll("line")
    .data(idx)
    .join("line")
    .attr("x1", function(i) { return x(muLucid[i]); })
    .attr("x2", function(i) { return x(muLucid[i]); })
    .attr("y1", function(i) { return y(ratio[i] - ratioErr[i]); })
    .attr("y2", function(i) { return y(ratio[i] + ratioErr[i]); })
    .attr("stroke", "#000")
    .attr("stroke-width", 2.2);

g.append("g").selectAll("circle")
    .data(idx)
    .join("circle")
    .attr("cx", function(i) { return x(muLucid[i]); })
    .attr("cy", function(i) { return y(ratio[i]); })
    .attr("r", 4.3)
    .attr("fill", "#000");

// fitted line over the full axis range
var xr = x.domain();
g.append("line")
    .attr("x1", x(xr[0]))
    .attr("x2", x(xr[1]))
    .attr("y1", y(fitOffset + fitSlope * xr[0]))
    .attr("y2", y(fitOffset + fitSlope * xr[1]))
    .attr("stroke", "#000")
    .attr("stroke-width", 4.5);

// labels
var fs = 40;
svg.append("text")
    .attr("x", 251).attr("y", 80)
    .style("font-size", fs + "px")
    .style("font-weight", "bold").style("font-style", "italic")
    .text("ATLAS");
svg.append("text")
    .attr("x", 395).attr("y", 80)
    .style("font-size", fs + "px")
    .text("Preliminary");

var sq = svg.append("text")
    .attr("x", 251).attr("y", 133)
    .style("font-size", fs + "px");
sq.append("tspan").text("√");
sq.append("tspan").style("text-decoration", "overline").text("s");
sq.append("tspan").text(infoLeft[0].slice(2));

svg.append("text")
    .attr("x", 251).attr("y", 187)
    .style("font-size", fs + "px")
    .text(infoLeft[1]);

// fit parameters, value ± error
infoRight.forEach(function(d, i) {
    var t = svg.append("text")
        .attr("x", 652)
        .attr("y", 80 + i * 53)
        .style("font-size", "41px");
    t.append("tspan").text(d[0]);
    t.append("tspan").attr("dx", 7).text("±");
    t.append("tspan").attr("dx", 9).text(d[1]);
});

// axis title: mu with stacked super/subscript
function muTitle(parent, x0, y0, pieces) {
    var cx = x0;
    pieces.forEach(function(p) {
        var w = 0;
        if (p.text) {
            var t = parent.append("text").attr("x", cx).attr("y", y0).style("font-size", p.size + "px").text(p.text);
            w = t.node().getComputedTextLength();
        }
        if (p.sup) {
            var a = parent.append("text").attr("x", cx).attr("y", y0 + p.supDy).style("font-size", p.supSize + "px").text(p.sup);
            w = Math.max(w, a.node().getComputedTextLength());
        }
        if (p.sub) {
            var b = parent.append("text").attr("x", cx).attr("y", y0 + p.subDy).style("font-size", p.subSize + "px").text(p.sub);
            w = Math.max(w, b.node().getComputedTextLength());
        }
        cx += w + (p.gap || 0);
    });
}

var xt = svg.append("g");
muTitle(xt, 991, 838, [
    {text: "μ", size: 40, gap: 2},
    {sup: "Uncorrected", sub: "LUCID Bi2HitOR", supSize: 27, subSize: 31, supDy: -18, subDy: 14}
]);

var yt = svg.append("g").attr("transform", "translate(53,393) rotate(-90)");
muTitle(yt, 0, 0, [
    {text: "μ", size: 40, gap: 1},
    {sub: "Tracking", subSize: 28, subDy: 22},
    {text: "/μ", size: 40, gap: 1},
    {sup: "Uncorrected", sub: "LUCID Bi2HitOR", supSize: 27, subSize: 29, supDy: -11, subDy: 24}
]);
</script>
</body>
</html>
